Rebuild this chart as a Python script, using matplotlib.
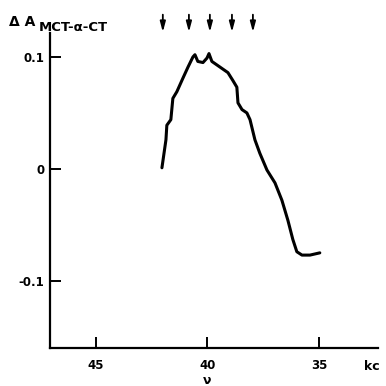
import matplotlib
matplotlib.use("Agg")
import matplotlib.pyplot as plt
import matplotlib.transforms as mtransforms

# Data
wavenumber = [42.04, 41.86, 41.82, 41.64, 41.55, 41.37, 41.10, 40.87, 40.65, 40.56,
              40.43, 40.20, 40.02, 39.93, 39.80, 39.44, 39.08, 38.86, 38.68, 38.63,
              38.45, 38.23, 38.09, 37.87, 37.65, 37.33, 36.97, 36.66, 36.39, 36.17,
              35.99, 35.76, 35.40, 34.96]
delta_a = [0.001, 0.026, 0.039, 0.044, 0.063, 0.069, 0.081, 0.091, 0.100, 0.102,
           0.096, 0.095, 0.099, 0.103, 0.096, 0.091, 0.086, 0.079, 0.073, 0.059,
           0.053, 0.050, 0.044, 0.026, 0.014, -0.001, -0.0125, -0.028, -0.046, -0.063,
           -0.074, -0.077, -0.077, -0.075]
arrow_positions = [42.0, 40.83, 39.89, 38.9, 37.96]
x_ticks = [45, 40, 35]
x_tick_labels = ["45", "40", "35"]
y_ticks = [0.1, 0, -0.1]
y_tick_labels = ["0.1", "0", "-0.1"]

fig = plt.figure(figsize=(3.86, 3.86), dpi=100)
ax = fig.add_axes([50/386, 38/386, 328/386, 315/386])
ax.plot(wavenumber, delta_a, color="black", lw=2.2, solid_capstyle="round", solid_joinstyle="round")

ax.set_xlim(47.06, 32.35)
ax.set_ylim(-0.16, 0.1214)
ax.spines["top"].set_visible(False)
ax.spines["right"].set_visible(False)
for s in ("left", "bottom"):
    ax.spines[s].set_linewidth(1.6)

ax.set_xticks(x_ticks)
ax.set_xticklabels(x_tick_labels, fontweight="bold", fontsize=8.5)
ax.set_yticks(y_ticks)
ax.set_yticklabels(y_tick_labels, fontweight="bold", fontsize=8.5)
ax.tick_params(direction="in", length=8, width=1.4)
ax.tick_params(axis="x", pad=8)
ax.tick_params(axis="y", pad=4)

trans = mtransforms.blended_transform_factory(ax.transData, ax.transAxes)
for xp in arrow_positions:
    ax.annotate("", xy=(xp, 0.994), xytext=(xp, 1.067), xycoords=trans, textcoords=trans,
                annotation_clip=False,
                arrowprops=dict(arrowstyle="-|>,head_length=0.6,head_width=0.16",
                                color="black", lw=1.3))

fig.text(9/386, 1 - 26/386, "Δ A", fontweight="bold", fontsize=10, va="baseline", ha="left")
fig.text(39/386, 1 - 31/386, "MCT-α-CT", fontweight="bold", fontsize=9.5, va="baseline", ha="left")
fig.text(372/386, 1 - 370/386, "kc", fontweight="bold", fontsize=9, va="baseline", ha="center")
fig.text(207/386, 1 - 384/386, "ν", fontweight="bold", fontsize=9, va="baseline", ha="center")

fig.savefig("out.png", dpi=100)
